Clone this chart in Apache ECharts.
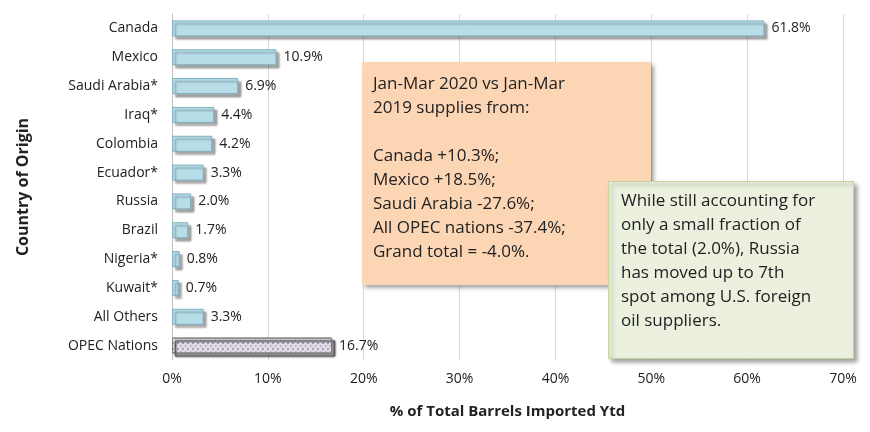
<!DOCTYPE html><html><head><meta charset="utf-8">
<script src="https://cdn.jsdelivr.net/npm/echarts@6/dist/echarts.min.js"></script>
<style>html,body{margin:0;padding:0;background:#fff}#c{width:870px;height:432px}</style></head><body><div id="c"></div>
<script>
const categories=["Canada","Mexico","Saudi Arabia*","Iraq*","Colombia","Ecuador*","Russia","Brazil","Nigeria*","Kuwait*","All Others","OPEC Nations"];
const values=[61.8,10.9,6.9,4.4,4.2,3.3,2.0,1.7,0.8,0.7,3.3,16.7];
const xTicks=[0,10,20,30,40,50,60,70];
const note1="Jan-Mar 2020 vs Jan-Mar\n2019 supplies from:\n\nCanada +10.3%;\nMexico +18.5%;\nSaudi Arabia -27.6%;\nAll OPEC nations -37.4%;\nGrand total = -4.0%.";
const note2="While still accounting for\nonly a small fraction of\nthe total (2.0%), Russia\nhas moved up to 7th\nspot among U.S. foreign\noil suppliers.";
const F="Open Sans";
const c=echarts.init(document.getElementById('c'));
c.setOption({
 textStyle:{fontFamily:F},
 grid:{left:172,right:27,top:14,bottom:72},
 xAxis:{type:'value',min:0,max:70,interval:10,
  axisLabel:{formatter:v=>v+'%',fontSize:14,color:'#222',margin:12},
  splitLine:{lineStyle:{color:'#d9d9d9'}},axisLine:{show:false},axisTick:{show:false},
  name:'% of Total Barrels Imported Ytd',nameLocation:'middle',nameGap:44,
  nameTextStyle:{fontWeight:'bold',fontSize:15,color:'#222'}},
 yAxis:{type:'category',inverse:true,data:categories,
  axisLabel:{fontSize:14,color:'#222',margin:14},axisTick:{show:false},
  axisLine:{lineStyle:{color:'#bfbfbf'}},
  name:'Country of Origin',nameLocation:'middle',nameGap:141,nameRotate:90,
  nameTextStyle:{fontWeight:'bold',fontSize:16,color:'#222'}},
 series:[{type:'bar',barWidth:16,
  data:values.map((v,i)=>i===values.length-1?{value:v,itemStyle:{color:'#ece6f2',borderColor:'#7f7f7f',decal:{symbol:'circle',symbolSize:0.7,dashArrayX:[[1,4],[0,1,4,0]],dashArrayY:[2,1],color:'#3f3151'}}}:v),
  itemStyle:{color:'#b7dde8',borderColor:'#7fb0c0',borderWidth:1,shadowColor:'rgba(0,0,0,0.35)',shadowOffsetX:3,shadowOffsetY:3,shadowBlur:2},
  label:{show:true,position:'right',formatter:p=>p.value.toFixed(1)+'%',fontSize:14,color:'#222',distance:7}}],
 graphic:[
  {type:'rect',z:100,left:362,top:62,shape:{width:289,height:223},style:{fill:'#fcd5b5',shadowColor:'rgba(0,0,0,0.35)',shadowBlur:4,shadowOffsetX:3,shadowOffsetY:3}},
  {type:'text',z:101,left:373,top:72,style:{text:note1,fontSize:17,lineHeight:24,fill:'#222',fontFamily:F}},
  {type:'rect',z:102,left:608,top:181,shape:{width:245,height:177},style:{fill:'#ebf1de',stroke:'#c4d79b',shadowColor:'rgba(0,0,0,0.35)',shadowBlur:4,shadowOffsetX:3,shadowOffsetY:3}},
  {type:'text',z:103,left:621,top:189,style:{text:note2,fontSize:17,lineHeight:24,fill:'#222',fontFamily:F}}
 ]
});
</script></body></html>
